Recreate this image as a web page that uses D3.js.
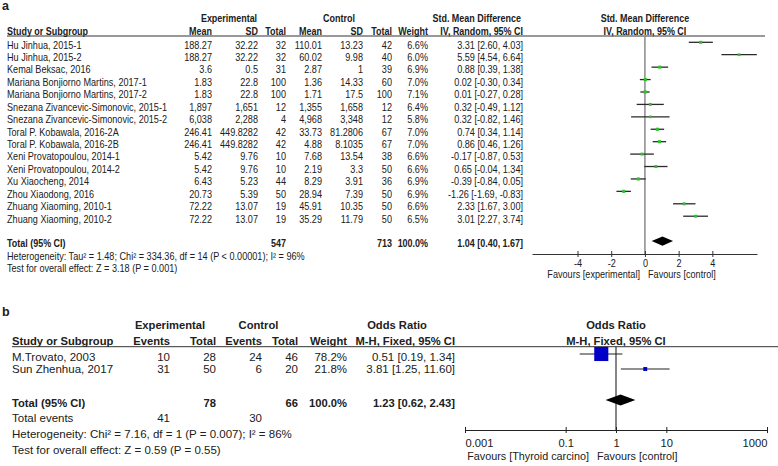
<!DOCTYPE html>
<html><head><meta charset="utf-8">
<script src="https://cdn.jsdelivr.net/npm/d3@7"></script>
<style>
body{margin:0;background:#fff}
svg text{font-family:"Liberation Sans",Arial,sans-serif;fill:#202020}
</style></head><body>
<svg id="chart" width="778" height="466"></svg>
<script>
// ---------- Panel a data ----------
const studiesA = ["Hu Jinhua, 2015-1","Hu Jinhua, 2015-2","Kemal Beksac, 2016","Mariana Bonjiorno Martins, 2017-1","Mariana Bonjiorno Martins, 2017-2","Snezana Zivancevic-Simonovic, 2015-1","Snezana Zivancevic-Simonovic, 2015-2","Toral P. Kobawala, 2016-2A","Toral P. Kobawala, 2016-2B","Xeni Provatopoulou, 2014-1","Xeni Provatopoulou, 2014-2","Xu Xiaocheng, 2014","Zhou Xiaodong, 2016","Zhuang Xiaoming, 2010-1","Zhuang Xiaoming, 2010-2"];
const expMeanA = ["188.27","188.27","3.6","1.83","1.83","1,897","6,038","246.41","246.41","5.42","5.42","6.43","20.73","72.22","72.22"];
const expSdA = ["32.22","32.22","0.5","22.8","22.8","1,651","2,288","449.8282","449.8282","9.76","9.76","5.23","5.39","13.07","13.07"];
const expNA = [32,32,31,100,100,12,4,42,42,10,10,44,50,19,19];
const ctlMeanA = ["110.01","60.02","2.87","1.36","1.71","1,355","4,968","33.73","4.88","7.68","2.19","8.29","28.94","45.91","35.29"];
const ctlSdA = ["13.23","9.98","1","14.33","17.5","1,658","3,348","81.2806","8.1035","13.54","3.3","3.91","7.39","10.35","11.79"];
const ctlNA = [42,40,39,60,100,12,12,67,67,38,50,36,50,50,50];
const weightA = [6.6,6.0,6.9,7.0,7.1,6.4,5.8,7.0,7.0,6.6,6.6,6.9,6.9,6.6,6.5];
const smdA = [3.31,5.59,0.88,0.02,0.01,0.32,0.32,0.74,0.86,-0.17,0.65,-0.39,-1.26,2.33,3.01];
const loA = [2.60,4.54,0.39,-0.30,-0.27,-0.49,-0.82,0.34,0.46,-0.87,-0.04,-0.84,-1.69,1.67,2.27];
const hiA = [4.03,6.64,1.38,0.34,0.28,1.12,1.46,1.14,1.26,0.53,1.34,0.05,-0.83,3.00,3.74];
const totalNA = [547,713];
const totalEstA = [1.04,0.40,1.67];
const ticksA = [-4,-2,0,2,4];
const hetA = "Heterogeneity: Tau\u00b2 = 1.48; Chi\u00b2 = 334.36, df = 14 (P < 0.00001); I\u00b2 = 96%";
const testA = "Test for overall effect: Z = 3.18 (P = 0.001)";

// ---------- Panel b data ----------
const studiesB = ["M.Trovato, 2003","Sun Zhenhua, 2017"];
const expEventsB = [10,31];
const expTotalB = [28,50];
const ctlEventsB = [24,6];
const ctlTotalB = [46,20];
const weightB = [78.2,21.8];
const orB = [0.51,3.81];
const loB = [0.19,1.25];
const hiB = [1.34,11.60];
const totalNB = [78,66];
const totalEventsB = [41,30];
const totalEstB = [1.23,0.62,2.43];
const ticksB = [0.001,0.1,1,10,1000];
const hetB = "Heterogeneity: Chi\u00b2 = 7.16, df = 1 (P = 0.007); I\u00b2 = 86%";
const testB = "Test for overall effect: Z = 0.59 (P = 0.55)";

const svg = d3.select("#chart");
const ci = (e,l,h) => `${e.toFixed(2)} [${l.toFixed(2)}, ${h.toFixed(2)}]`;

function T(g, x, y, s, o = {}) {
  return g.append("text")
    .attr("transform", `translate(${x},${y}) scale(${o.sx || 1},1)`)
    .attr("dy", "0.35em")
    .attr("text-anchor", o.a || "start")
    .style("font-size", o.fs + "px")
    .style("font-weight", o.b ? "bold" : null)
    .text(s);
}

// ================= Panel a =================
const gA = svg.append("g");
const FA = {fs: 10.3, sx: 0.885};
const fa = (extra) => Object.assign({}, FA, extra.b ? {sx: 0.87} : {}, extra);
const col = {name:7, m1:212, s1:258, n1:286, m2:322, s2:363, n2:392, w:428, ci:523};
const yA = d3.scaleLinear().domain([0,18]).range([45,268.6]);
const xA = d3.scaleLinear().domain([-6.7,6.65]).range([532,757]);
const sqA = d3.scaleLinear().domain([0,100]).range([0,45]);
const markOff = -2.7;

T(gA, 2, 6, "a", {fs: 12.5, b: true});
T(gA, 229, 18, "Experimental", fa({a:"middle", b:true}));
T(gA, 339, 18, "Control", fa({a:"middle", b:true}));
T(gA, 521, 18, "Std. Mean Difference", fa({a:"end", b:true}));
T(gA, xA(0), 18, "Std. Mean Difference", fa({a:"middle", b:true}));
const hdrA = [["Study or Subgroup", col.name, "start"],["Mean", col.m1, "end"],["SD", col.s1, "end"],["Total", col.n1, "end"],["Mean", col.m2, "end"],["SD", col.s2, "end"],["Total", col.n2, "end"],["Weight", col.w, "end"],["IV, Random, 95% CI", col.ci, "end"]];
hdrA.forEach(([s,x,a]) => T(gA, x, 31.5, s, fa({a, b:true})));
T(gA, xA(0), 31.5, "IV, Random, 95% CI", fa({a:"middle", b:true}));
gA.append("line").attr("x1",7).attr("x2",765).attr("y1",36).attr("y2",36).attr("stroke","#333").attr("stroke-width",1);

studiesA.forEach((s,i) => {
  const y = yA(i);
  T(gA, col.name, y, s, fa({}));
  T(gA, col.m1, y, expMeanA[i], fa({a:"end"}));
  T(gA, col.s1, y, expSdA[i], fa({a:"end"}));
  T(gA, col.n1, y, expNA[i], fa({a:"end"}));
  T(gA, col.m2, y, ctlMeanA[i], fa({a:"end"}));
  T(gA, col.s2, y, ctlSdA[i], fa({a:"end"}));
  T(gA, col.n2, y, ctlNA[i], fa({a:"end"}));
  T(gA, col.w, y, weightA[i].toFixed(1) + "%", fa({a:"end"}));
  T(gA, col.ci, y, ci(smdA[i], loA[i], hiA[i]), fa({a:"end"}));
});
T(gA, col.name, yA(16), "Total (95% CI)", fa({b:true}));
T(gA, col.n1, yA(16), totalNA[0], fa({a:"end", b:true}));
T(gA, col.n2, yA(16), totalNA[1], fa({a:"end", b:true}));
T(gA, col.w, yA(16), "100.0%", fa({a:"end", b:true}));
T(gA, col.ci, yA(16), ci(...totalEstA), fa({a:"end", b:true}));
T(gA, col.name, yA(17), hetA, fa({}));
T(gA, col.name, yA(18), testA, fa({}));

// zero line
gA.append("line").attr("x1",xA(0)).attr("x2",xA(0)).attr("y1",36).attr("y2",254)
  .attr("stroke","#8a8a8a").attr("stroke-width",1.5);
// CIs and squares
studiesA.forEach((s,i) => {
  const y = yA(i) + markOff;
  gA.append("line").attr("x1",xA(loA[i])).attr("x2",xA(hiA[i])).attr("y1",y).attr("y2",y)
    .attr("stroke","#2a2a2a").attr("stroke-width",1.3);
  const w = sqA(weightA[i]);
  gA.append("rect").attr("x",xA(smdA[i])-w/2).attr("y",y-w/2).attr("width",w).attr("height",w)
    .attr("fill","#2fbf2f");
});
{
  const y = yA(16) + markOff;
  const [e,l,h] = totalEstA;
  gA.append("path").attr("d", `M${xA(l)},${y}L${xA(e)},${y-4.6}L${xA(h)},${y}L${xA(e)},${y+4.6}Z`).attr("fill","#000");
}
// axis
const axA = gA.append("g").attr("transform","translate(0,254)")
  .call(d3.axisBottom(xA).tickValues(ticksA).tickFormat(d => String(d)).tickSizeOuter(0));
axA.select(".domain").attr("stroke","#333");
axA.selectAll(".tick line").attr("y1",-3).attr("y2",3).attr("stroke","#333");
axA.selectAll(".tick text").attr("y",0).attr("dy","0.35em").attr("transform","translate(0,9.3) scale(0.885,1)")
  .style("font-size","10.3px").attr("font-family",null);
T(gA, 640, 274, "Favours [experimental]", fa({a:"end"}));
T(gA, 648, 274, "Favours [control]", fa({}));

// ================= Panel b =================
const gB = svg.append("g");
const FB = {fs: 11.5, sx: 1};
const fb = (extra) => Object.assign({}, FB, extra.b ? {fs: 11.2} : {}, extra);
const colB = {name:12, e1:170, n1:216, e2:262, n2:298, w:347, ci:455};
const yTextB = d3.scaleLinear().domain([0,1]).range([357.3,369]);
const yPlotB = d3.scaleLinear().domain([0,1]).range([354,369]);
const xB = d3.scaleLog().domain([0.001,1000]).range([465,767]);
const sqB = d3.scaleLinear().domain([0,100]).range([0,18]);
const yB = {h1:325, h2:341.3, line:346.7, total:402.7, totalPlot:400, events:418.3, het:434.3, test:450, axis:430};

T(gB, 2, 312, "b", {fs: 12.5, b: true});
T(gB, 170, yB.h1, "Experimental", fb({a:"middle", b:true}));
T(gB, 258.5, yB.h1, "Control", fb({a:"middle", b:true}));
T(gB, 397, yB.h1, "Odds Ratio", fb({a:"middle", b:true}));
T(gB, xB(1), yB.h1, "Odds Ratio", fb({a:"middle", b:true}));
const hdrB = [["Study or Subgroup", colB.name, "start"],["Events", colB.e1, "end"],["Total", colB.n1, "end"],["Events", colB.e2, "end"],["Total", colB.n2, "end"],["Weight", colB.w, "end"],["M-H, Fixed, 95% CI", colB.ci, "end"]];
hdrB.forEach(([s,x,a]) => T(gB, x, yB.h2, s, fb({a, b:true})));
T(gB, xB(1), yB.h2, "M-H, Fixed, 95% CI", fb({a:"middle", b:true}));
gB.append("line").attr("x1",12).attr("x2",778).attr("y1",yB.line).attr("y2",yB.line).attr("stroke","#333").attr("stroke-width",1);

studiesB.forEach((s,i) => {
  const y = yTextB(i);
  T(gB, colB.name, y, s, fb({}));
  T(gB, colB.e1, y, expEventsB[i], fb({a:"end"}));
  T(gB, colB.n1, y, expTotalB[i], fb({a:"end"}));
  T(gB, colB.e2, y, ctlEventsB[i], fb({a:"end"}));
  T(gB, colB.n2, y, ctlTotalB[i], fb({a:"end"}));
  T(gB, colB.w, y, weightB[i].toFixed(1) + "%", fb({a:"end"}));
  T(gB, colB.ci, y, ci(orB[i], loB[i], hiB[i]), fb({a:"end"}));
});
T(gB, colB.name, yB.total, "Total (95% CI)", fb({b:true}));
T(gB, colB.n1, yB.total, totalNB[0], fb({a:"end", b:true}));
T(gB, colB.n2, yB.total, totalNB[1], fb({a:"end", b:true}));
T(gB, colB.w, yB.total, "100.0%", fb({a:"end", b:true}));
T(gB, colB.ci, yB.total, ci(...totalEstB), fb({a:"end", b:true}));
T(gB, colB.name, yB.events, "Total events", fb({}));
T(gB, colB.e1, yB.events, totalEventsB[0], fb({a:"end"}));
T(gB, colB.e2, yB.events, totalEventsB[1], fb({a:"end"}));
T(gB, colB.name, yB.het, hetB, fb({}));
T(gB, colB.name, yB.test, testB, fb({}));

gB.append("line").attr("x1",xB(1)).attr("x2",xB(1)).attr("y1",yB.line).attr("y2",yB.axis)
  .attr("stroke","#222").attr("stroke-width",1.1);
studiesB.forEach((s,i) => {
  const y = yPlotB(i);
  gB.append("line").attr("x1",xB(loB[i])).attr("x2",xB(hiB[i])).attr("y1",y).attr("y2",y)
    .attr("stroke","#222").attr("stroke-width",1.1);
  const w = sqB(weightB[i]);
  gB.append("rect").attr("x",xB(orB[i])-w/2).attr("y",y-w/2).attr("width",w).attr("height",w)
    .attr("fill","#0000c8");
});
{
  const y = yB.totalPlot;
  const [e,l,h] = totalEstB;
  gB.append("path").attr("d", `M${xB(l)},${y}L${xB(e)},${y-5.5}L${xB(h)},${y}L${xB(e)},${y+5.5}Z`).attr("fill","#000");
}
const axB = gB.append("g").attr("transform",`translate(0,${yB.axis})`)
  .call(d3.axisBottom(xB).tickValues(ticksB).tickFormat(d => String(d)).tickSizeOuter(0));
axB.select(".domain").attr("stroke","#222");
axB.selectAll(".tick line").attr("y1",-3).attr("y2",3).attr("stroke","#222");
axB.selectAll(".tick text").attr("y",12.7).attr("dy","0.35em")
  .style("font-size","11.2px").attr("font-family",null)
  .attr("text-anchor",(d,i,n) => i === 0 ? "start" : (i === n.length-1 ? "end" : "middle"));
T(gB, 589, 456, "Favours [Thyroid carcino]", fb({a:"end", fs: 10.8}));
T(gB, 597, 456, "Favours [control]", fb({fs: 10.8}));
</script>
</body></html>
